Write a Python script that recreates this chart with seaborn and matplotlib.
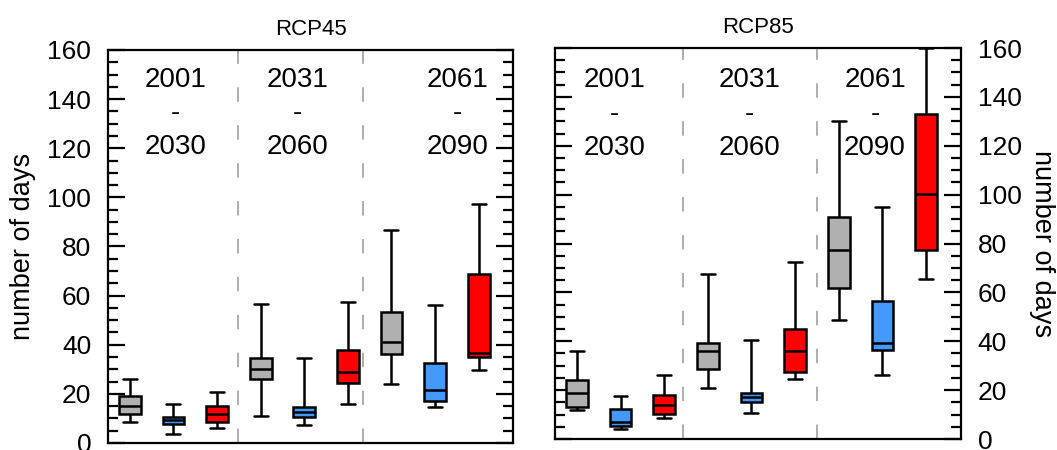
import numpy as np
import pandas as pd
import matplotlib
matplotlib.use("Agg")
import matplotlib.pyplot as plt
from matplotlib.ticker import MultipleLocator
import seaborn as sns

# ---------------- data ----------------
scenarios = ["RCP45", "RCP85"]
periods = ["2001\n-\n2030", "2031\n-\n2060", "2061\n-\n2090"]
series = ["grey", "blue", "red"]
series_colors = ["#b0b0b0", "#4499ff", "#ff0000"]

# five-number summaries per box: [whisker low, Q1, median, Q3, whisker high]
# RCP45, one list per period, boxes in order grey / blue / red
rcp45_p1 = [[8.6, 11.7, 15.1, 19.0, 26.2], [3.5, 7.6, 9.2, 10.7, 16.0], [6.2, 8.6, 12.0, 14.9, 20.6]]
rcp45_p2 = [[11.0, 26.1, 30.2, 34.4, 56.4], [7.2, 10.7, 12.8, 14.8, 34.8], [15.8, 24.6, 28.7, 37.9, 57.2]]
rcp45_p3 = [[23.9, 36.4, 41.2, 53.4, 86.7], [14.7, 17.1, 21.5, 32.6, 56.1], [29.6, 35.0, 36.8, 68.9, 97.5]]
# RCP85
rcp85_p1 = [[11.7, 13.3, 18.8, 24.0, 36.1], [4.2, 5.2, 7.1, 12.3, 17.6], [8.7, 10.1, 14.0, 18.1, 26.1]]
rcp85_p2 = [[20.8, 28.5, 36.1, 39.1, 67.5], [10.6, 15.1, 17.2, 18.8, 40.7], [24.5, 27.4, 36.1, 45.1, 72.6]]
rcp85_p3 = [[48.6, 62.0, 77.3, 91.0, 130.0], [26.0, 36.5, 39.2, 56.6, 94.8], [65.5, 77.3, 100.2, 133.2, 160.0]]

panel_data = {"RCP45": [rcp45_p1, rcp45_p2, rcp45_p3],
              "RCP85": [rcp85_p1, rcp85_p2, rcp85_p3]}

yticks = [0, 20, 40, 60, 80, 100, 120, 140, 160]
ylabel = "number of days"

# ---------------- styling ----------------
sns.set_theme(style="white")
plt.rcParams["font.family"] = ["Liberation Sans", "DejaVu Sans"]
plt.rcParams["axes.linewidth"] = 1.5
for key in ["text.color", "axes.labelcolor", "xtick.color", "ytick.color",
            "axes.titlecolor"]:
    plt.rcParams[key] = "black"

fig = plt.figure(figsize=(10.57, 4.5), dpi=100)
ax_left = fig.add_axes([0.1022, 0.0156, 0.3836, 0.8733])
ax_right = fig.add_axes([0.5251, 0.0244, 0.3841, 0.8689])
axes = {"RCP45": ax_left, "RCP85": ax_right}

# layout positions (style only)
dash_pos = {"RCP45": [2.47, 5.35], "RCP85": [2.43, 5.5]}
text_x = {"RCP45": [1.05, 3.84, 7.51], "RCP85": [0.87, 3.96, 6.83]}
text_y = {"RCP45": 134.2, "RCP85": 133.0}

palette = dict(zip(series, series_colors))

for scen in scenarios:
    ax = axes[scen]
    rows = []
    for pi, per in enumerate(panel_data[scen]):
        for si, stats in enumerate(per):
            slot = pi * 3 + si
            for v in stats:
                rows.append({"slot": slot, "series": series[si], "value": v})
    df = pd.DataFrame(rows)

    for xd in dash_pos[scen]:
        ax.axvline(xd, color="#a8a8a8", lw=1.3, ls=(0, (8, 13)), zorder=0)

    sns.boxplot(data=df, x="slot", y="value", hue="series", order=list(range(9)),
                hue_order=series, palette=palette, dodge=False, width=0.5,
                whis=(0, 100), showfliers=False, linecolor="black", linewidth=1.8,
                legend=False, ax=ax, capwidths=0.32, saturation=1)

    for xt, per_label in zip(text_x[scen], periods):
        ax.text(xt, text_y[scen], per_label, ha="center", va="center",
                fontsize=20, linespacing=1.38, color="black")

    ax.set_xlim(-0.5, 8.8)
    ax.set_ylim(0, 160)
    ax.set_xticks([])
    ax.set_xlabel("")
    ax.set_yticks(yticks)
    ax.yaxis.set_minor_locator(MultipleLocator(5))
    ax.tick_params(axis="y", which="both", direction="in", left=True, right=True,
                   width=1.6, colors="black", labelsize=19, pad=12)
    ax.tick_params(axis="y", which="major", length=12)
    ax.tick_params(axis="y", which="minor", length=7.5)
    ax.set_title(scen, fontsize=16, pad=11, color="black")
    for sp in ax.spines.values():
        sp.set_color("black")
        sp.set_linewidth(1.6)

ax_left.tick_params(axis="y", labelleft=True, labelright=False)
ax_left.set_ylabel(ylabel, fontsize=19.5, labelpad=8, color="black")
ax_right.tick_params(axis="y", labelleft=False, labelright=True)
ax_right.yaxis.set_label_position("right")
ax_right.set_ylabel(ylabel, fontsize=19.5, rotation=270, labelpad=24, color="black")

fig.savefig("out.png", dpi=100)
